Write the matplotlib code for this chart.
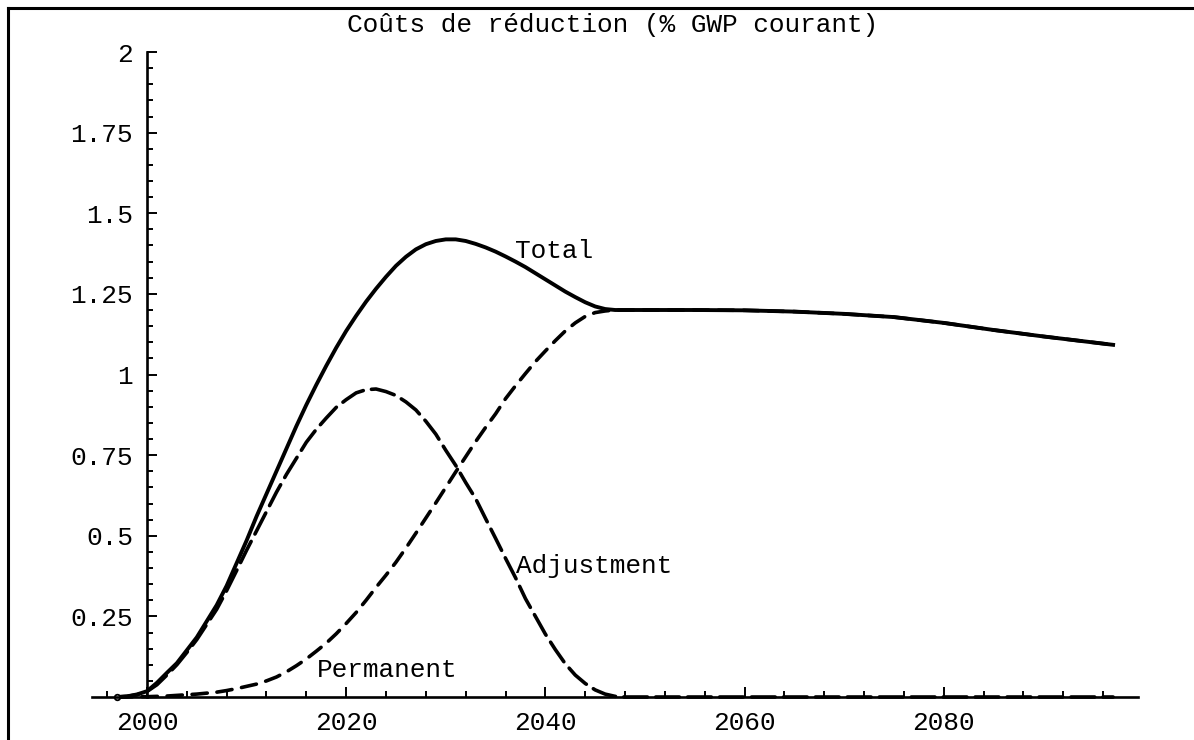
import numpy as np
import matplotlib
matplotlib.use('Agg')
import matplotlib.pyplot as plt
from matplotlib.ticker import FixedLocator, MultipleLocator
from matplotlib.lines import Line2D

plt.rcParams['font.family'] = ['Liberation Mono', 'DejaVu Sans Mono']
plt.rcParams['lines.scale_dashes'] = False

# values (% of GWP)
years = [1997, 1998, 1999, 2000, 2001, 2002, 2003, 2004, 2005, 2006,
         2007, 2008, 2009, 2010, 2011, 2012, 2013, 2014, 2015, 2016,
         2017, 2018, 2019, 2020, 2021, 2022, 2023, 2024, 2025, 2026,
         2027, 2028, 2029, 2030, 2031, 2032, 2033, 2034, 2035, 2036,
         2037, 2038, 2039, 2040, 2041, 2042, 2043, 2044, 2045, 2046,
         2047, 2048, 2050, 2055, 2060, 2065, 2070, 2075, 2080, 2085,
         2090, 2097]

total = [0, 0.002, 0.008, 0.018, 0.044, 0.075, 0.105, 0.145, 0.185, 0.235,
         0.285, 0.345, 0.415, 0.485, 0.560, 0.630, 0.700, 0.770, 0.840, 0.906,
         0.968, 1.027, 1.083, 1.135, 1.182, 1.226, 1.266, 1.303, 1.337, 1.365,
         1.388, 1.404, 1.414, 1.419, 1.419, 1.414, 1.405, 1.394, 1.381, 1.366,
         1.350, 1.333, 1.314, 1.295, 1.276, 1.257, 1.240, 1.224, 1.211, 1.203,
         1.200, 1.200, 1.200, 1.200, 1.199, 1.195, 1.188, 1.178, 1.160, 1.138,
         1.118, 1.092]

adjustment = [0, 0.002, 0.007, 0.017, 0.038, 0.068, 0.100, 0.138, 0.178, 0.225,
              0.272, 0.330, 0.392, 0.455, 0.515, 0.575, 0.635, 0.690, 0.740, 0.790,
              0.830, 0.865, 0.898, 0.922, 0.943, 0.953, 0.955, 0.947, 0.935, 0.915,
              0.890, 0.855, 0.815, 0.765, 0.718, 0.665, 0.615, 0.553, 0.492, 0.430,
              0.370, 0.305, 0.250, 0.195, 0.147, 0.103, 0.068, 0.042, 0.022, 0.009,
              0.002, 0, 0, 0, 0, 0, 0, 0, 0, 0,
              0, 0]

permanent = [0, 0, 0.001, 0.001, 0.002, 0.003, 0.005, 0.007, 0.009, 0.012,
             0.015, 0.020, 0.026, 0.033, 0.040, 0.050, 0.062, 0.078, 0.097, 0.118,
             0.142, 0.167, 0.196, 0.228, 0.262, 0.300, 0.340, 0.378, 0.418, 0.462,
             0.508, 0.555, 0.602, 0.650, 0.698, 0.745, 0.792, 0.836, 0.878, 0.925,
             0.965, 1.003, 1.040, 1.073, 1.105, 1.135, 1.160, 1.180, 1.192, 1.197,
             1.200, 1.200, 1.200, 1.200, 1.199, 1.195, 1.188, 1.178, 1.160, 1.138,
             1.118, 1.092]

y_ticks = [0.25, 0.5, 0.75, 1, 1.25, 1.5, 1.75, 2]
y_labels = ['0.25', '0.5', '0.75', '1', '1.25', '1.5', '1.75', '2']
x_ticks = [2000, 2020, 2040, 2060, 2080]

fs = 18.8

fig = plt.figure(figsize=(11.94, 7.4), dpi=100)
ax = fig.add_axes([92 / 1194, 43 / 740, 1046 / 1194, 645 / 740])
ax.set_xlim(1994.48, 2099.5)
ax.set_ylim(0, 2)

ax.plot(years, permanent, color='black', lw=2.6, dashes=(11, 7),
        clip_on=False, dash_capstyle='round')
ax.plot(years, adjustment, color='black', lw=2.6, dashes=(17, 6),
        clip_on=False, dash_capstyle='round')
ax.plot(years, total, color='black', lw=2.8, clip_on=False)
ax.plot(years[0], total[0], marker='o', ms=4, mfc='white', mec='black',
        mew=1.3, clip_on=False)

ax.text(2037.0, 1.361, 'Total', fontsize=fs)
ax.text(2037.1, 0.384, 'Adjustment', fontsize=fs)
ax.text(2017.1, 0.063, 'Permanent', fontsize=fs)

for s in ['top', 'right']:
    ax.spines[s].set_visible(False)
ax.spines['left'].set_position(('data', 2000))
ax.spines['bottom'].set_position(('data', 0))
ax.spines['left'].set_bounds(0, 2)
for s in ['left', 'bottom']:
    ax.spines[s].set_linewidth(1.9)

ax.set_xticks(x_ticks)
ax.set_xticklabels([str(v) for v in x_ticks])
ax.xaxis.set_minor_locator(FixedLocator(np.arange(1996, 2099, 4)))
ax.set_yticks(y_ticks)
ax.set_yticklabels(y_labels)
ax.yaxis.set_minor_locator(MultipleLocator(0.05))

ax.tick_params(which='both', direction='in', width=1.4, labelsize=fs)
ax.tick_params(which='major', length=7)
ax.tick_params(which='minor', length=4)
ax.tick_params(axis='x', pad=10)
ax.tick_params(axis='y', pad=10)

fig.text(613 / 1194, 1 - 32 / 740, 'Coûts de réduction (% GWP courant)',
         ha='center', va='baseline', fontsize=fs)

# partial frame of the original picture
fig.add_artist(Line2D([8 / 1194, 1], [1 - 7.5 / 740, 1 - 7.5 / 740], color='black', lw=2.2))
fig.add_artist(Line2D([8 / 1194, 8 / 1194], [0, 1 - 7.5 / 740], color='black', lw=2.2))

fig.savefig('out.png', dpi=100)
